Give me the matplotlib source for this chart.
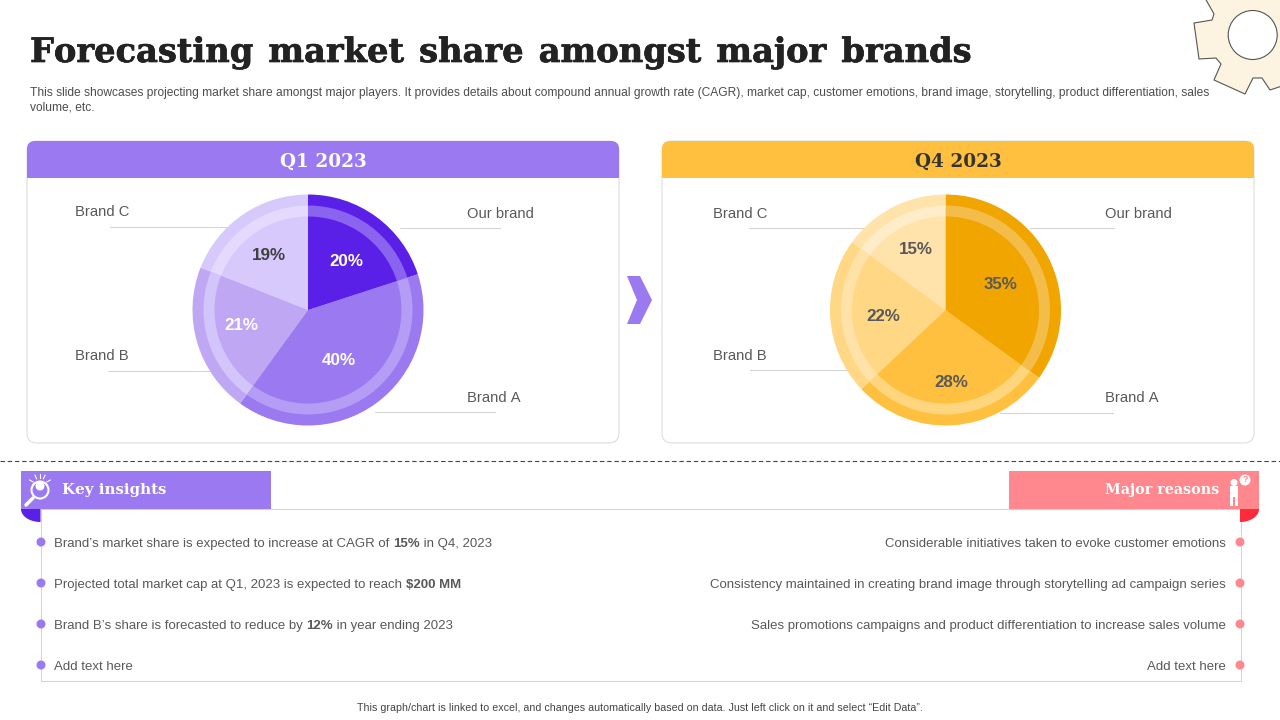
import numpy as np
import matplotlib
matplotlib.use("Agg")
import matplotlib.pyplot as plt
import matplotlib.patheffects as pe
from matplotlib.patches import Circle, FancyBboxPatch, Polygon, Rectangle

plt.rcParams['font.family'] = ['Liberation Sans', 'DejaVu Sans']
plt.rcParams['text.kerning_factor'] = 6

# data
brands = ["Our brand", "Brand A", "Brand B", "Brand C"]
q1_share = [20, 40, 21, 19]
q4_share = [35, 28, 22, 15]

title = "Forecasting market share amongst major brands"
subtitle = ["This slide showcases projecting market share amongst major players. It provides details about compound annual growth rate (CAGR), market cap, customer emotions, brand image, storytelling, product differentiation, sales",
            "volume, etc."]
footer = "This graph/chart is linked to excel, and changes automatically based on data. Just left click on it and select \u201cEdit Data\u201d."

insights = [[("Brand\u2019s market share is expected to increase at CAGR of ", False), ("15%", True), (" in Q4, 2023", False)],
            [("Projected total market cap at Q1, 2023 is expected to reach ", False), ("$200 MM", True)],
            [("Brand B\u2019s share is forecasted to reduce by ", False), ("12%", True), (" in year ending 2023", False)],
            [("Add text here", False)]]
reasons = ["Considerable initiatives taken to evoke customer emotions",
           "Consistency maintained in creating brand image through storytelling ad campaign series",
           "Sales promotions campaigns and product differentiation to increase sales volume",
           "Add text here"]

# colours
PURPLE = ["#5a20e8", "#9b79f0", "#bfa7f4", "#d7c9fb"]
PURPLE_RING = ["#8a63ee", "#b59df5", "#d3c4f9", "#e3dafd"]
YELLOW = ["#f0a500", "#ffc03f", "#ffd785", "#ffe3ab"]
YELLOW_RING = ["#f4bd4a", "#ffd57e", "#ffe2a8", "#ffecc8"]
GREY_LINE = "#d4d4d4"
TEXT = "#595959"
SERIF = "DejaVu Serif"

fig = plt.figure(figsize=(12.8, 7.2), dpi=100)
ax = fig.add_axes([0, 0, 1, 1])
ax.set_xlim(0, 1280)
ax.set_ylim(720, 0)
ax.axis('off')


def px(size):
    return size * 0.72


def draw_runs(x, y, runs, size, color):
    # left aligned text with bold parts, all on one baseline
    renderer = fig.canvas.get_renderer()
    for s, bold in runs:
        t = ax.text(x, y, s.replace(" ", "\u00a0"), fontsize=px(size), color=color, va='baseline', ha='left',
                    fontweight='bold' if bold else 'normal')
        x += t.get_window_extent(renderer).width


def draw_panel(x0, y0, x1, y1, head_h, color, label, label_color):
    ax.add_patch(FancyBboxPatch((x0, y0), x1 - x0, y1 - y0, boxstyle="round,pad=0,rounding_size=10",
                                fc="white", ec="#dcdcdc", lw=0.75))
    head = FancyBboxPatch((x0, y0), x1 - x0, head_h + 20, boxstyle="round,pad=0,rounding_size=8", fc=color, ec="none")
    ax.add_patch(head)
    head.set_clip_path(Rectangle((x0, y0), x1 - x0, head_h, transform=ax.transData))
    ax.text((x0 + x1) / 2, y0 + head_h / 2 + 2, label, family=SERIF, fontweight='bold', fontsize=px(18.5),
            color=label_color, ha='center', va='center')


def draw_pie(cx, cy, values, colors, ring, label_pos, label_colors):
    r = 125
    pa = fig.add_axes([(cx - r) / 1280, 1 - (cy + r) / 720, 2 * r / 1280, 2 * r / 720])
    for radius, cols in [(115.5, colors), (104.5, ring), (93.5, colors)]:
        pa.pie(values, colors=cols, radius=radius, startangle=90, counterclock=False, frame=False,
               wedgeprops={'linewidth': 0})
    pa.set_xlim(-r, r)
    pa.set_ylim(-r, r)
    pa.axis('off')
    for v, pos, c in zip(values, label_pos, label_colors):
        pa.text(pos[0], pos[1] - 1.5, f"{v}%", fontsize=px(17), fontweight='bold', color=c, ha='center', va='center')


def quarter_ellipse(cx, cy, rx, ry, a0, a1):
    ang = np.radians(np.linspace(a0, a1, 30))
    pts = [(cx, cy)] + [(cx + rx * np.cos(a), cy + ry * np.sin(a)) for a in ang]
    return Polygon(pts, closed=True, ec="none")


# gear decoration in the top right corner
gear_outline = [(1205, -2), (1214, 14), (1212, 20), (1194, 23), (1199, 59), (1216, 58), (1221, 64), (1214, 80),
                (1245, 94), (1253, 78), (1262, 78), (1270, 90), (1282, 86), (1282, -2)]
ax.add_patch(Polygon(gear_outline, closed=True, fc="#fdf3e1", ec="#555555", lw=0.8, joinstyle='round'))
ax.add_patch(Circle((1252.7, 35), 24.5, fc="white", ec="#555555", lw=0.8))

# header
title_txt = ax.text(30, 52.5, title.replace(" ", " \u200a"), family=SERIF, fontweight='bold', fontsize=px(33.7),
                    color="#222222", va='center', ha='left')
title_txt.set_path_effects([pe.withStroke(linewidth=0.5, foreground="#222222")])
for i, line in enumerate(subtitle):
    ax.text(30, 93 + i * 15, line, fontsize=px(12), color="#4d4d4d", va='center', ha='left')

# panels
draw_panel(27, 141, 619, 443, 37, "#9b79f0", "Q1 2023", "white")
draw_panel(662, 141, 1254, 443, 37, "#ffc03f", "Q4 2023", "#333333")

# leader lines
left_lines = [(400, 500, 228), (375, 495, 412), (108, 215, 371), (110, 230, 227)]
right_lines = [(1030, 1114, 228), (1000, 1113, 413), (750, 850, 370), (749, 870, 228)]
for x0, x1, y in left_lines + right_lines:
    ax.plot([x0, x1], [y, y], color=GREY_LINE, lw=0.75)

left_names = [(467, 213.5), (467, 398.5), (75, 356.5), (75, 212.5)]
right_names = [(1105, 214.5), (1105, 398.5), (713, 355.5), (713, 213.5)]
for name, p in zip(brands, left_names):
    ax.text(p[0], p[1], name, fontsize=px(14.8), color=TEXT, va='center', ha='left')
for name, p in zip(brands, right_names):
    ax.text(p[0], p[1], name, fontsize=px(14.8), color=TEXT, va='center', ha='left')

draw_pie(308, 310, q1_share, PURPLE, PURPLE_RING, [(38, 50), (31, -49), (-67, -14), (-39, 56)],
         ["white", "white", "white", "#404040"])
draw_pie(945.5, 310, q4_share, YELLOW, YELLOW_RING, [(55, 27), (6, -71), (-62, -5), (-30, 62)],
         ["#595959"] * 4)

# arrow between the pies
ax.add_patch(Polygon([(627, 276), (640, 276), (652, 300), (640, 324), (627, 324), (637, 300)], closed=True,
                     fc="#9b79f0", ec="none"))

# lower part
ax.plot([0, 1280], [461, 461], color="#444444", lw=0.8, dashes=(4, 2.5))
ax.add_patch(Rectangle((41, 509), 1200, 172, fc="white", ec=GREY_LINE, lw=0.75))

corner_l = quarter_ellipse(40.5, 509, 19.5, 13, 90, 180)
corner_l.set_facecolor("#5a20e8")
ax.add_patch(corner_l)
corner_r = quarter_ellipse(1240, 509, 19, 13, 0, 90)
corner_r.set_facecolor("#ff2a3a")
ax.add_patch(corner_r)
ax.add_patch(Rectangle((21, 471), 250, 38, fc="#9b79f0", ec="none"))
ax.add_patch(Rectangle((1009, 471), 250, 38, fc="#ff888f", ec="none"))
ax.text(62, 490, "Key insights", family=SERIF, fontweight='bold', fontsize=px(15), color="white", va='center', ha='left')
ax.text(1219, 490, "Major reasons", family=SERIF, fontweight='bold', fontsize=px(14.3), color="white", va='center', ha='right')

# key insights icon
ax.add_patch(Circle((40, 490), 8.5, fc="none", ec="white", lw=1.5))
ax.add_patch(Circle((40, 486), 4.5, fc="white", ec="none"))
ax.plot([33, 26], [498, 505], color="white", lw=2.5, solid_capstyle='round')
for a in [-150, -115, -90, -65, -30]:
    ax.plot([40 + 8 * np.cos(np.radians(a)), 40 + 12 * np.cos(np.radians(a))],
            [486 + 8 * np.sin(np.radians(a)), 486 + 12 * np.sin(np.radians(a))], color="white", lw=0.8)

# major reasons icon
ax.add_patch(Circle((1234, 482.5), 3.5, fc="white", ec="none"))
ax.add_patch(Rectangle((1230, 486), 8, 11, fc="white", ec="none"))
ax.add_patch(Rectangle((1230, 497), 3, 9, fc="white", ec="none"))
ax.add_patch(Rectangle((1235, 497), 3, 9, fc="white", ec="none"))
ax.add_patch(Circle((1245, 480), 5.5, fc="white", ec="none"))
ax.text(1245, 480, "?", fontsize=px(9), fontweight='bold', color="#ff888f", ha='center', va='center')

row_y = [542, 583, 624, 665]
for y, runs, reason in zip(row_y, insights, reasons):
    ax.add_patch(Circle((41, y), 4.5, fc="#9b79f0", ec="none"))
    ax.add_patch(Circle((1240, y), 4.5, fc="#ff888f", ec="none"))
    draw_runs(54, y + 5, runs, 13.2, TEXT)
    ax.text(1226, y + 5, reason, fontsize=px(13.2), color=TEXT, va='baseline', ha='right')

ax.text(639.5, 708, footer, fontsize=px(10.6), color="#444444", va='center', ha='center')

fig.savefig("out.png", dpi=100)
